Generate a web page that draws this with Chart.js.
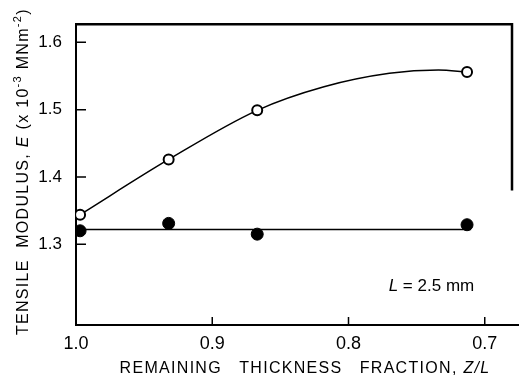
<!DOCTYPE html>
<html>
<head>
<meta charset="utf-8">
<script src="https://cdn.jsdelivr.net/npm/chart.js@4.4.1/dist/chart.umd.min.js"></script>
<style>
html, body { margin: 0; padding: 0; background: #fff; }
</style>
</head>
<body>
<canvas id="modulusChart" width="519" height="384"></canvas>
<script>
// values
const thickness = [0.997, 0.932, 0.867, 0.713];
const modulusOpen = [1.344, 1.426, 1.499, 1.556];
const modulusFilled = [1.320, 1.331, 1.315, 1.329];
// hand-drawn curve through the open circles, read along its path
const curveX = [0.997, 0.932, 0.867, 0.818, 0.770, 0.734, 0.713];
const curveY = [1.344, 1.426, 1.499, 1.534, 1.554, 1.559, 1.556];
// straight line through the filled circles
const fitX = [1.0, 0.710];
const fitY = [1.322, 1.322];
const xTicks = [1.0, 0.9, 0.8, 0.7];
const yTicks = [1.3, 1.4, 1.5, 1.6];

const FONT = '"Liberation Sans", Arial, sans-serif';

function pts(xs, ys) {
    return xs.map((v, i) => ({ x: v, y: ys[i] }));
}

// draws a line of text made of runs (normal / italic / superscript)
function drawRuns(ctx, runs, size, spacing, align) {
    const parts = runs.map(r => {
        const s = r.sup ? Math.round(size * 0.7) : size;
        ctx.font = (r.italic ? 'italic ' : '') + s + 'px ' + FONT;
        ctx.letterSpacing = spacing + 'px';
        return { r: r, s: s, w: ctx.measureText(r.text).width };
    });
    const total = parts.reduce((a, p) => a + p.w, 0);
    let cx = align === 'center' ? -total / 2 : 0;
    const base = size * 0.36;
    parts.forEach(p => {
        ctx.font = (p.r.italic ? 'italic ' : '') + p.s + 'px ' + FONT;
        ctx.letterSpacing = spacing + 'px';
        ctx.fillText(p.r.text, cx, p.r.sup ? base - size * 0.45 : base);
        cx += p.w;
    });
}

const paperPlugin = {
    id: 'paper',
    afterDraw(chart) {
        const ctx = chart.ctx;
        const a = chart.chartArea;
        const x = chart.scales.x;
        const y = chart.scales.y;

        ctx.save();
        ctx.strokeStyle = '#000';
        ctx.fillStyle = '#000';

        // inward tick marks
        ctx.lineWidth = 1.5;
        ctx.beginPath();
        yTicks.forEach(v => {
            const py = y.getPixelForValue(v);
            ctx.moveTo(a.left, py);
            ctx.lineTo(a.left + 10, py);
        });
        xTicks.forEach(v => {
            const px = x.getPixelForValue(v);
            ctx.moveTo(px, a.bottom);
            ctx.lineTo(px, a.bottom - 8);
        });
        ctx.stroke();

        // bottom axis runs to the page edge
        ctx.lineWidth = 2;
        ctx.beginPath();
        ctx.moveTo(a.right, a.bottom);
        ctx.lineTo(chart.width, a.bottom);
        ctx.stroke();

        // top and right frame
        ctx.lineWidth = 2.5;
        ctx.beginPath();
        ctx.moveTo(a.left - 1, a.top);
        ctx.lineTo(a.right, a.top);
        ctx.lineTo(a.right, y.getPixelForValue(1.38));
        ctx.stroke();

        ctx.textAlign = 'left';
        ctx.textBaseline = 'alphabetic';

        // y axis title
        ctx.save();
        ctx.translate(22, (a.top + a.bottom) / 2 - 3);
        ctx.rotate(-Math.PI / 2);
        drawRuns(ctx, [
            { text: 'TENSILE  MODULUS, ' },
            { text: 'E', italic: true },
            { text: ' (x 10' },
            { text: '-3', sup: true },
            { text: ' MNm' },
            { text: '-2', sup: true },
            { text: ')' }
        ], 16, 1.3, 'center');
        ctx.restore();

        // x axis title
        ctx.save();
        ctx.translate((a.left + a.right) / 2 + 11, 367);
        drawRuns(ctx, [
            { text: 'REMAINING   THICKNESS   FRACTION, ' },
            { text: 'Z/L', italic: true }
        ], 16, 1.3, 'center');
        ctx.restore();

        // annotation
        ctx.save();
        ctx.translate(x.getPixelForValue(0.7705), y.getPixelForValue(1.240));
        drawRuns(ctx, [
            { text: 'L', italic: true },
            { text: ' = 2.5 mm' }
        ], 17, 0, 'left');
        ctx.restore();

        ctx.restore();
    }
};

new Chart(document.getElementById('modulusChart'), {
    type: 'scatter',
    data: {
        datasets: [
            {
                label: 'filled',
                data: pts(thickness, modulusFilled),
                showLine: false,
                pointRadius: 6,
                pointBackgroundColor: '#000',
                pointBorderColor: '#000',
                pointBorderWidth: 1
            },
            {
                label: 'open',
                data: pts(thickness, modulusOpen),
                showLine: false,
                pointRadius: 5,
                pointBorderWidth: 2,
                pointBackgroundColor: '#fff',
                pointBorderColor: '#000'
            },
            {
                label: 'curve',
                data: pts(curveX, curveY),
                showLine: true,
                cubicInterpolationMode: 'monotone',
                borderColor: '#000',
                borderWidth: 1.5,
                pointRadius: 0
            },
            {
                label: 'fit',
                data: pts(fitX, fitY),
                showLine: true,
                borderColor: '#000',
                borderWidth: 1.5,
                pointRadius: 0
            }
        ]
    },
    options: {
        responsive: false,
        animation: false,
        layout: {
            padding: { top: 10, right: 2, left: 0, bottom: 0 }
        },
        plugins: {
            legend: { display: false },
            tooltip: { enabled: false }
        },
        scales: {
            x: {
                type: 'linear',
                reverse: true,
                min: 0.68,
                max: 1.0,
                afterBuildTicks: s => { s.ticks = xTicks.map(v => ({ value: v })); },
                afterFit: s => { s.height = 59; },
                grid: { display: false, drawTicks: false },
                border: { display: true, color: '#000', width: 2 },
                ticks: {
                    color: '#000',
                    font: { family: FONT, size: 18 },
                    padding: 8,
                    maxRotation: 0,
                    autoSkip: false,
                    callback: v => Number(v).toFixed(1)
                }
            },
            y: {
                type: 'linear',
                min: 1.18,
                max: 1.627,
                afterBuildTicks: s => { s.ticks = yTicks.map(v => ({ value: v })); },
                afterFit: s => { s.width = 76; },
                grid: { display: false, drawTicks: false },
                border: { display: true, color: '#000', width: 2 },
                ticks: {
                    color: '#000',
                    font: { family: FONT, size: 17 },
                    padding: 14,
                    autoSkip: false,
                    callback: v => Number(v).toFixed(1)
                }
            }
        }
    },
    plugins: [paperPlugin]
});
</script>
</body>
</html>
